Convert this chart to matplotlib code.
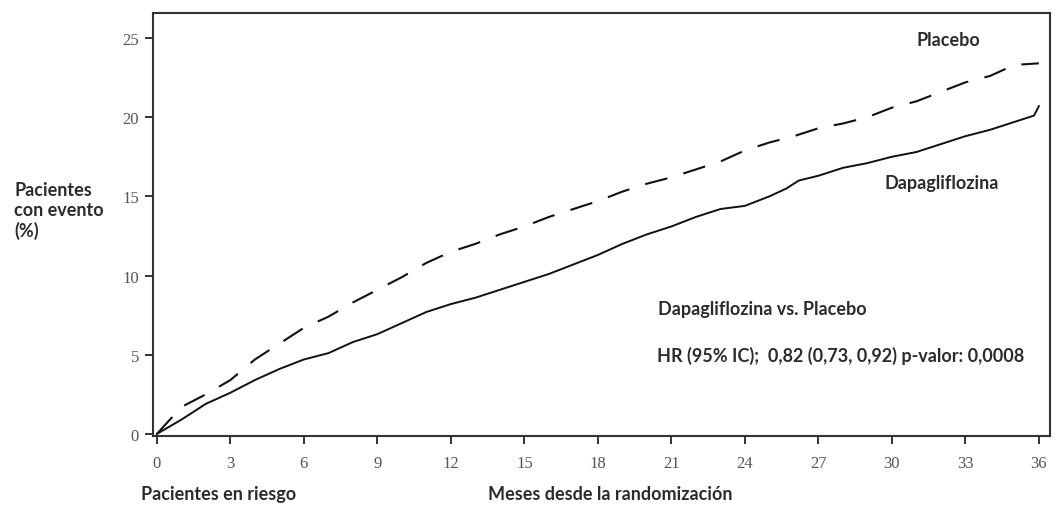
import matplotlib.pyplot as plt

# Kaplan-Meier style cumulative event curves (% of patients with an event)
months_dapa = [0, 1, 2, 3, 4, 5, 6, 7, 8, 9, 10, 11, 12, 13, 14, 15, 16, 17, 18,
               19, 20, 21, 22, 23, 24, 25, 25.7, 26.2, 27, 28, 29, 30, 31, 32, 33,
               34, 35, 35.8, 36]
dapa = [0, 0.9, 1.9, 2.6, 3.4, 4.1, 4.7, 5.1, 5.8, 6.3, 7.0, 7.7, 8.2, 8.6, 9.1,
        9.6, 10.1, 10.7, 11.3, 12.0, 12.6, 13.1, 13.7, 14.2, 14.4, 15.0, 15.5,
        16.0, 16.3, 16.8, 17.1, 17.5, 17.8, 18.3, 18.8, 19.2, 19.7, 20.1, 20.7]

months_plac = [0, 1, 2, 3, 4, 5, 6, 7, 8, 9, 10, 11, 12, 13, 14, 15, 16, 17, 18,
               19, 20, 21, 22, 23, 24, 25, 26, 27, 28, 29, 30, 31, 32, 33, 34, 35, 36]
placebo = [0, 1.7, 2.5, 3.4, 4.7, 5.7, 6.7, 7.4, 8.3, 9.1, 9.9, 10.8, 11.5, 12.0,
           12.6, 13.1, 13.7, 14.2, 14.7, 15.3, 15.8, 16.2, 16.7, 17.2, 17.9, 18.4,
           18.8, 19.3, 19.6, 20.0, 20.6, 21.0, 21.6, 22.2, 22.6, 23.3, 23.4]

xticks = list(range(0, 37, 3))
yticks = [0, 5, 10, 15, 20, 25]

label_font = 'Lato'
tick_font = 'Liberation Serif'
txt_color = '#2b2b2b'
fs = 13

fig = plt.figure(figsize=(10.57, 5.06), dpi=100)
ax = fig.add_axes([0.1447, 0.1364, 0.8486, 0.836])

ax.plot(months_dapa, dapa, color='#111111', lw=1.4)
ax.plot(months_plac, placebo, color='#111111', lw=1.5, dashes=(11, 8))

ax.set_xlim(-0.16, 36.45)
ax.set_ylim(-0.13, 26.58)
ax.set_xticks(xticks)
ax.set_yticks(yticks)
ax.set_xticklabels([str(t) for t in xticks], family=tick_font, fontsize=12, color='#555555')
ax.set_yticklabels([str(t) for t in yticks], family=tick_font, fontsize=12, color='#555555')
ax.tick_params(axis='both', direction='out', length=6, width=1.4, color='#333333')
ax.tick_params(axis='x', pad=8)
ax.tick_params(axis='y', pad=4)
for s in ax.spines.values():
    s.set_linewidth(1.5)
    s.set_color('#333333')

# curve labels and hazard ratio annotation
ax.text(31.0, 24.9, 'Placebo', family=label_font, fontweight='bold', fontsize=fs,
        color=txt_color, va='center')
ax.text(29.7, 15.9, 'Dapagliflozina', family=label_font, fontweight='bold', fontsize=fs,
        color=txt_color, va='center')
ax.text(20.45, 7.9, 'Dapagliflozina vs. Placebo', family=label_font, fontweight='bold',
        fontsize=fs, color=txt_color, va='center')
ax.text(20.4, 5.0, 'HR (95% IC);  0,82 (0,73, 0,92) p-valor: 0,0008', family=label_font,
        fontweight='bold', fontsize=fs, color=txt_color, va='center')

# axis captions placed in figure coordinates
fig.text(14 / 1057, 1 - 211 / 506, 'Pacientes\ncon evento\n(%)', family=label_font,
         fontweight='bold', fontsize=fs, color=txt_color, va='center', ha='left',
         linespacing=1.2)
fig.text(141 / 1057, 1 - 495 / 506, 'Pacientes en riesgo', family=label_font,
         fontweight='bold', fontsize=fs, color=txt_color, va='center', ha='left')
fig.text(488 / 1057, 1 - 495 / 506, 'Meses desde la randomización', family=label_font,
         fontweight='bold', fontsize=fs, color=txt_color, va='center', ha='left')

fig.savefig('out.png', dpi=100)
